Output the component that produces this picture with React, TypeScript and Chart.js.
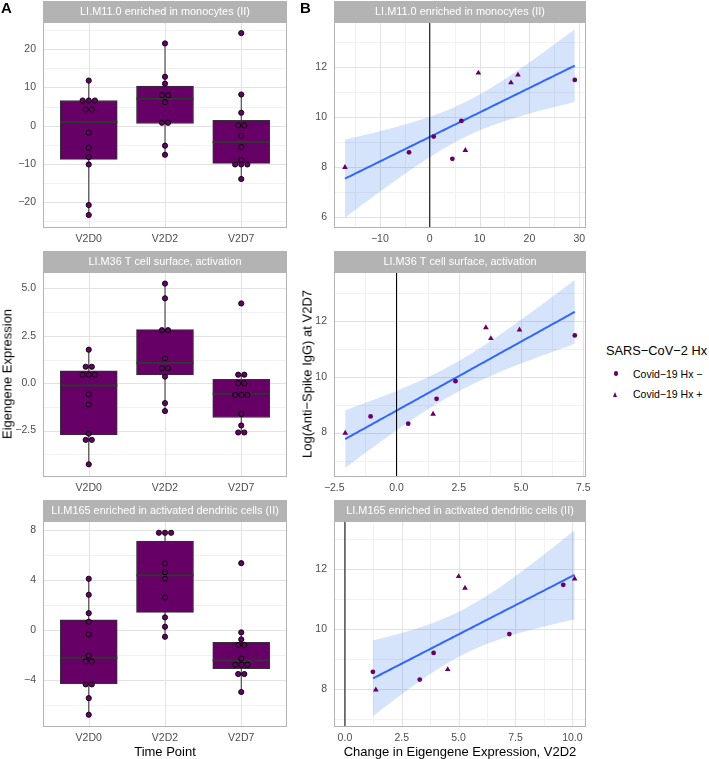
import React, { useEffect, useRef } from 'react';
import { Chart, registerables } from 'chart.js';

Chart.register(...registerables);

const FONT = '"Liberation Sans", Arial, Helvetica, sans-serif';
Chart.defaults.font.family = FONT;

// ---------- styling constants ----------
const PURPLE = '#660066';
const BOX_LINE = '#333333';
const GRID_MAJOR = '#E2E2E2';
const GRID_MINOR = '#F1F1F1';
const STRIP = '#B3B3B3';
const TICK_TEXT = '#4D4D4D';
const FIT_LINE = '#3366FF';
const BAND_FILL = 'rgba(45,115,235,0.2)';

// ---------- data ----------
const TIME_POINTS = ['V2D0', 'V2D2', 'V2D7'];
const MODULES = [
  'LI.M11.0 enriched in monocytes (II)',
  'LI.M36 T cell surface, activation',
  'LI.M165 enriched in activated dendritic cells (II)',
];

// Panel A: eigengene expression per subject (dot plot), by time point
const M11_V2D0 = [11.8, 6.6, 6.6, 6.6, 4.26, 4.26, -1.83, -5.74, -8.17, -10.1, -20.7, -23.3];
const M11_V2D2 = [21.5, 12.8, 11.0, 8.0, 8.0, 6.17, 0.78, 0.78, -5.2, -7.57];
const M11_V2D7 = [24.2, 8.17, 3.4, 0.1, 0.1, -2.6, -5.56, -8.96, -10.1, -10.1, -10.1, -13.9];

const M36_V2D0 = [1.77, 0.87, 0.87, 0.45, 0.45, 0.45, -0.59, -1.12, -2.66, -2.99, -2.99, -4.28];
const M36_V2D2 = [5.26, 4.48, 2.8, 2.8, 1.31, 0.79, 0.79, 0.35, -1.05, -1.47];
const M36_V2D7 = [4.21, 0.45, 0.45, 0.0, 0.0, -0.62, -0.62, -0.62, -1.62, -2.23, -2.6, -2.6];

const M165_V2D0 = [4.08, 2.8, 1.33, 0.64, -0.37, -2.08, -2.53, -2.53, -4.37, -4.37, -5.47, -6.8];
const M165_V2D2 = [7.76, 7.76, 7.76, 5.31, 4.61, 4.08, 2.59, 0.99, 0.24, -0.56];
const M165_V2D7 = [5.33, -0.21, -0.77, -1.22, -1.22, -2.29, -2.8, -2.8, -2.8, -3.54, -3.54, -4.98];

// Box summaries [lower whisker, Q1, median, Q3, upper whisker] per time point
const M11_BOX = [[-23.3, -8.78, 0.96, 6.6, 11.8], [-7.57, 0.6, 7.04, 10.35, 21.5], [-13.9, -9.82, -4.26, 1.41, 8.17]];
const M36_BOX = [[-4.28, -2.73, -0.12, 0.66, 1.77], [-1.47, 0.44, 1.07, 2.83, 5.26], [-2.6, -1.81, -0.56, 0.21, 0.45]];
const M165_BOX = [[-6.8, -4.32, -2.24, 0.8, 4.08], [-0.56, 1.39, 4.37, 7.09, 7.76], [-4.98, -3.12, -2.45, -1.01, -0.21]];

// Panel B: per subject
const LOG_IGG_V2D7 = [7.98, 8.58, 8.32, 8.66, 9.21, 9.84, 11.76, 11.37, 11.68, 11.48];
const COVID_HX_POSITIVE = [true, false, false, true, false, false, true, true, true, false];
const M11_CHANGE_V2D2 = [-17.0, -4.15, 4.54, 7.15, 0.8, 6.35, 9.76, 16.3, 17.7, 29.1];
const M36_CHANGE_V2D2 = [-2.06, -1.04, 0.47, 1.47, 1.61, 2.37, 3.59, 3.79, 4.94, 7.16];
const M165_CHANGE_V2D2 = [1.36, 1.23, 3.29, 4.52, 3.9, 7.23, 5.0, 5.28, 10.1, 9.6];

// Tick values / labels
const A1_Y_TICKS = [-20, -10, 0, 10, 20];
const A1_Y_LABELS = ['\u221220', '\u221210', '0', '10', '20'];
const A1_Y_MINOR = [-25, -15, -5, 5, 15, 25];
const A2_Y_TICKS = [-2.5, 0, 2.5, 5];
const A2_Y_LABELS = ['\u22122.5', '0.0', '2.5', '5.0'];
const A2_Y_MINOR = [-3.75, -1.25, 1.25, 3.75];
const A3_Y_TICKS = [-4, 0, 4, 8];
const A3_Y_LABELS = ['\u22124', '0', '4', '8'];
const A3_Y_MINOR = [-6, -2, 2, 6];
const CAT_TICKS = [1, 2, 3];

const B1_X_TICKS = [-10, 0, 10, 20, 30];
const B1_X_LABELS = ['\u221210', '0', '10', '20', '30'];
const B1_X_MINOR = [-15, -5, 5, 15, 25];
const B1_Y_TICKS = [6, 8, 10, 12];
const B1_Y_LABELS = ['6', '8', '10', '12'];
const B2_X_TICKS = [-2.5, 0, 2.5, 5, 7.5];
const B2_X_LABELS = ['\u22122.5', '0.0', '2.5', '5.0', '7.5'];
const B2_X_MINOR = [-1.25, 1.25, 3.75, 6.25];
const B3_X_TICKS = [0, 2.5, 5, 7.5, 10];
const B3_X_LABELS = ['0.0', '2.5', '5.0', '7.5', '10.0'];
const B3_X_MINOR = [1.25, 3.75, 6.25, 8.75];
const B_Y_TICKS = [8, 10, 12];
const B_Y_LABELS = ['8', '10', '12'];
const B_Y_MINOR = [7, 9, 11, 13];

// ---------- layout ----------
const Y_AXIS_W = 45;
const X_AXIS_H = 22;
const STRIP_H = 21;
const PAD_TOP = 22;
const PAD_RIGHT = 12;
const COL_A = { L: 43, R: 287 };
const COL_B = { L: 334, R: 586 };
const ROWS = [{ T: 22, B: 228 }, { T: 272, B: 477 }, { T: 521, B: 727 }];
const BOX_HALF = 0.375;
const DOT_STEP = 0.08;
const T_975_DF8 = 2.306004;
const TICK_FONT = 10.5;

// ---------- helpers ----------
function axis(min: number, max: number, major: number[], labels: string[], isX: boolean) {
  return {
    type: 'linear',
    min,
    max,
    bounds: 'data',
    offset: false,
    afterBuildTicks: (s: any) => {
      s.ticks = major.map((v) => ({ value: v }));
    },
    afterFit: (s: any) => {
      if (isX) s.height = X_AXIS_H;
      else s.width = Y_AXIS_W;
    },
    ticks: {
      autoSkip: false,
      maxRotation: 0,
      minRotation: 0,
      padding: isX ? 5 : 7,
      color: TICK_TEXT,
      font: { family: FONT, size: TICK_FONT },
      callback: (v: number) => {
        const i = major.indexOf(v);
        return i >= 0 ? labels[i] : '';
      },
    },
    grid: { display: false, drawTicks: false, offset: false },
    border: { display: false },
  };
}

type Grid = { xMajor: number[]; xMinor: number[]; yMajor: number[]; yMinor: number[] };

function makePanelPlugin(title: string, grid: Grid) {
  return {
    id: 'panel',
    beforeDraw(chart: any) {
      const { ctx, chartArea: a } = chart;
      ctx.save();
      ctx.fillStyle = '#FFFFFF';
      ctx.fillRect(a.left, a.top, a.right - a.left, a.bottom - a.top);
      ctx.fillStyle = STRIP;
      ctx.fillRect(a.left, a.top - STRIP_H, a.right - a.left, STRIP_H);
      ctx.fillStyle = '#FFFFFF';
      ctx.font = `10.9px ${FONT}`;
      ctx.textAlign = 'center';
      ctx.textBaseline = 'middle';
      ctx.fillText(title, (a.left + a.right) / 2, a.top - STRIP_H / 2 + 0.5);
      ctx.restore();
    },
    beforeDatasetsDraw(chart: any) {
      const { ctx, chartArea: a, scales } = chart;
      const xs = scales.x;
      const ys = scales.y;
      ctx.save();
      ctx.lineWidth = 1;
      const vLines = (vals: number[], color: string) => {
        ctx.strokeStyle = color;
        ctx.beginPath();
        vals.forEach((v) => {
          const p = Math.round(xs.getPixelForValue(v)) + 0.5;
          ctx.moveTo(p, a.top);
          ctx.lineTo(p, a.bottom);
        });
        ctx.stroke();
      };
      const hLines = (vals: number[], color: string) => {
        ctx.strokeStyle = color;
        ctx.beginPath();
        vals.forEach((v) => {
          const p = Math.round(ys.getPixelForValue(v)) + 0.5;
          ctx.moveTo(a.left, p);
          ctx.lineTo(a.right, p);
        });
        ctx.stroke();
      };
      vLines(grid.xMinor, GRID_MINOR);
      hLines(grid.yMinor, GRID_MINOR);
      vLines(grid.xMajor, GRID_MAJOR);
      hLines(grid.yMajor, GRID_MAJOR);
      ctx.restore();
    },
    afterDraw(chart: any) {
      const { ctx, chartArea: a } = chart;
      ctx.save();
      ctx.strokeStyle = STRIP;
      ctx.lineWidth = 1;
      ctx.strokeRect(a.left + 0.5, a.top + 0.5, a.right - a.left - 1, a.bottom - a.top - 1);
      ctx.restore();
    },
  };
}

function dotPoints(groups: number[][]) {
  const out: { x: number; y: number }[] = [];
  groups.forEach((vals, gi) => {
    const c = gi + 1;
    const counts = new Map<number, number>();
    vals.forEach((v) => counts.set(v, (counts.get(v) || 0) + 1));
    const seen = new Map<number, number>();
    vals.forEach((v) => {
      const n = counts.get(v)!;
      const k = seen.get(v) || 0;
      seen.set(v, k + 1);
      out.push({ x: c + (k - (n - 1) / 2) * DOT_STEP, y: v });
    });
  });
  return out;
}

function baseOptions(x: any, y: any) {
  return {
    responsive: false,
    animation: false,
    events: [],
    layout: { padding: { top: PAD_TOP, left: 0, right: PAD_RIGHT, bottom: 0 } },
    plugins: { legend: { display: false }, tooltip: { enabled: false } },
    scales: { x, y },
  };
}

function boxConfig(title: string, stats: number[][], dots: number[][], yMin: number, yMax: number, yT: number[], yL: string[], yM: number[]) {
  const whisk: any[] = [];
  const med: any[] = [];
  const boxes: any[] = [];
  stats.forEach((s, i) => {
    const c = i + 1;
    whisk.push({ x: c, y: s[0] }, { x: c, y: s[4] }, { x: c, y: null });
    boxes.push({ x: c, y: [s[1], s[3]] });
    med.push({ x: c - BOX_HALF, y: s[2] }, { x: c + BOX_HALF, y: s[2] }, { x: c, y: null });
  });
  return {
    type: 'scatter',
    data: {
      datasets: [
        { type: 'line', data: whisk, borderColor: BOX_LINE, borderWidth: 1, pointRadius: 0, fill: false, spanGaps: false, order: 4 },
        { type: 'bar', data: boxes, backgroundColor: PURPLE, borderColor: BOX_LINE, borderWidth: 1, borderSkipped: false, barThickness: 57, order: 3 },
        { type: 'line', data: med, borderColor: BOX_LINE, borderWidth: 2, pointRadius: 0, fill: false, spanGaps: false, order: 2 },
        { type: 'scatter', data: dotPoints(dots), pointRadius: 2.6, pointBackgroundColor: PURPLE, pointBorderColor: '#000000', pointBorderWidth: 0.9, order: 1 },
      ],
    },
    options: baseOptions(axis(0.4, 3.6, CAT_TICKS, TIME_POINTS, true), axis(yMin, yMax, yT, yL, false)),
    plugins: [makePanelPlugin(title, { xMajor: CAT_TICKS, xMinor: [], yMajor: yT, yMinor: yM })],
  };
}

function fitBand(xs: number[], ys: number[]) {
  const n = xs.length;
  const mx = xs.reduce((a, b) => a + b, 0) / n;
  const my = ys.reduce((a, b) => a + b, 0) / n;
  let sxx = 0;
  let sxy = 0;
  xs.forEach((x, i) => {
    sxx += (x - mx) * (x - mx);
    sxy += (x - mx) * (ys[i] - my);
  });
  const b = sxy / sxx;
  const a = my - b * mx;
  let sse = 0;
  xs.forEach((x, i) => {
    const r = ys[i] - (a + b * x);
    sse += r * r;
  });
  const s = Math.sqrt(sse / (n - 2));
  const lo = Math.min(...xs);
  const hi = Math.max(...xs);
  const pts: { x: number; fit: number; up: number; dn: number }[] = [];
  const steps = 80;
  for (let i = 0; i < steps; i++) {
    const x = lo + ((hi - lo) * i) / (steps - 1);
    const f = a + b * x;
    const se = s * Math.sqrt(1 / n + ((x - mx) * (x - mx)) / sxx);
    pts.push({ x, fit: f, up: f + T_975_DF8 * se, dn: f - T_975_DF8 * se });
  }
  return pts;
}

function scatterConfig(title: string, xs: number[], xMin: number, xMax: number, xT: number[], xL: string[], xM: number[], yMin: number, yMax: number, yT: number[], yL: string[], yM: number[]) {
  const band = fitBand(xs, LOG_IGG_V2D7);
  const circles = xs.map((x, i) => ({ x, y: LOG_IGG_V2D7[i] })).filter((_, i) => !COVID_HX_POSITIVE[i]);
  const tris = xs.map((x, i) => ({ x, y: LOG_IGG_V2D7[i] })).filter((_, i) => COVID_HX_POSITIVE[i]);
  const clear = 'rgba(0,0,0,0)';
  return {
    type: 'scatter',
    data: {
      datasets: [
        { type: 'line', data: band.map((p) => ({ x: p.x, y: p.up })), fill: '+1', backgroundColor: BAND_FILL, borderColor: clear, borderWidth: 1, pointRadius: 0, order: 5 },
        { type: 'line', data: band.map((p) => ({ x: p.x, y: p.dn })), fill: false, borderColor: clear, borderWidth: 1, pointRadius: 0, order: 5 },
        { type: 'line', data: band.map((p) => ({ x: p.x, y: p.fit })), fill: false, borderColor: FIT_LINE, borderWidth: 2, pointRadius: 0, order: 3 },
        { type: 'line', data: [{ x: 0, y: yMin }, { x: 0, y: yMax }], fill: false, borderColor: '#000000', borderWidth: 1, pointRadius: 0, order: 2 },
        { type: 'scatter', data: circles, pointStyle: 'circle', pointRadius: 2.4, pointBackgroundColor: PURPLE, pointBorderWidth: 0, order: 1 },
        { type: 'scatter', data: tris, pointStyle: 'triangle', pointRadius: 3.3, pointBackgroundColor: PURPLE, pointBorderWidth: 0, order: 1 },
      ],
    },
    options: baseOptions(axis(xMin, xMax, xT, xL, true), axis(yMin, yMax, yT, yL, false)),
    plugins: [makePanelPlugin(title, { xMajor: xT, xMinor: xM, yMajor: yT, yMinor: yM })],
  };
}

type Panel = { key: string; col: { L: number; R: number }; row: { T: number; B: number }; config: () => any };

const PANELS: Panel[] = [
  { key: 'a1', col: COL_A, row: ROWS[0], config: () => boxConfig(MODULES[0], M11_BOX, [M11_V2D0, M11_V2D2, M11_V2D7], -26.7, 27.1, A1_Y_TICKS, A1_Y_LABELS, A1_Y_MINOR) },
  { key: 'a2', col: COL_A, row: ROWS[1], config: () => boxConfig(MODULES[1], M36_BOX, [M36_V2D0, M36_V2D2, M36_V2D7], -4.95, 5.87, A2_Y_TICKS, A2_Y_LABELS, A2_Y_MINOR) },
  { key: 'a3', col: COL_A, row: ROWS[2], config: () => boxConfig(MODULES[2], M165_BOX, [M165_V2D0, M165_V2D2, M165_V2D7], -7.78, 8.7, A3_Y_TICKS, A3_Y_LABELS, A3_Y_MINOR) },
  { key: 'b1', col: COL_B, row: ROWS[0], config: () => scatterConfig(MODULES[0], M11_CHANGE_V2D2, -19.2, 31.35, B1_X_TICKS, B1_X_LABELS, B1_X_MINOR, 5.55, 13.8, B1_Y_TICKS, B1_Y_LABELS, B_Y_MINOR) },
  { key: 'b2', col: COL_B, row: ROWS[1], config: () => scatterConfig(MODULES[1], M36_CHANGE_V2D2, -2.51, 7.61, B2_X_TICKS, B2_X_LABELS, B2_X_MINOR, 6.41, 13.75, B_Y_TICKS, B_Y_LABELS, B_Y_MINOR) },
  { key: 'b3', col: COL_B, row: ROWS[2], config: () => scatterConfig(MODULES[2], M165_CHANGE_V2D2, -0.48, 10.6, B3_X_TICKS, B3_X_LABELS, B3_X_MINOR, 6.74, 13.61, B_Y_TICKS, B_Y_LABELS, B_Y_MINOR) },
];

function geom(p: Panel) {
  return {
    x: p.col.L - Y_AXIS_W,
    y: p.row.T - PAD_TOP,
    w: Y_AXIS_W + (p.col.R - p.col.L) + PAD_RIGHT,
    h: PAD_TOP + (p.row.B - p.row.T) + X_AXIS_H,
  };
}

const textBase: React.CSSProperties = { position: 'absolute', whiteSpace: 'nowrap', lineHeight: 1, fontFamily: FONT };

export default function App() {
  const refs = useRef<(HTMLCanvasElement | null)[]>([]);
  useEffect(() => {
    const charts = PANELS.map((p, i) => new Chart(refs.current[i] as HTMLCanvasElement, p.config()));
    return () => charts.forEach((c) => c.destroy());
  }, []);

  return (
    <div style={{ position: 'absolute', left: 0, top: 0, width: 709, height: 759, background: '#FFFFFF', overflow: 'hidden', fontFamily: FONT }}>
      {PANELS.map((p, i) => {
        const g = geom(p);
        return (
          <canvas
            key={p.key}
            ref={(el) => {
              refs.current[i] = el;
            }}
            width={g.w}
            height={g.h}
            style={{ position: 'absolute', left: g.x, top: g.y }}
          />
        );
      })}
      <div style={{ ...textBase, left: 1, top: 0, fontSize: 15, fontWeight: 'bold', color: '#000' }}>A</div>
      <div style={{ ...textBase, left: 300, top: 0, fontSize: 15, fontWeight: 'bold', color: '#000' }}>B</div>
      <div style={{ ...textBase, left: 7, top: 374, fontSize: 13, color: '#000', transform: 'translate(-50%, -50%) rotate(-90deg)' }}>Eigengene Expression</div>
      <div style={{ ...textBase, left: 165, top: 751, fontSize: 13, color: '#000', transform: 'translate(-50%, -50%)' }}>Time Point</div>
      <div style={{ ...textBase, left: 307, top: 374, fontSize: 13, color: '#000', transform: 'translate(-50%, -50%) rotate(-90deg)' }}>Log(Anti{'\u2212'}Spike IgG) at V2D7</div>
      <div style={{ ...textBase, left: 460, top: 751, fontSize: 13, color: '#000', transform: 'translate(-50%, -50%)' }}>Change in Eigengene Expression, V2D2</div>
      <div style={{ ...textBase, left: 606, top: 351, fontSize: 12.8, color: '#000', transform: 'translateY(-50%)' }}>SARS{'\u2212'}CoV{'\u2212'}2 Hx</div>
      <div style={{ position: 'absolute', left: 613.5, top: 371.2, width: 4.4, height: 4.4, borderRadius: '50%', background: PURPLE }} />
      <div style={{ ...textBase, left: 633, top: 373.5, fontSize: 10.5, color: '#000', transform: 'translateY(-50%)' }}>Covid{'\u2212'}19 Hx {'\u2212'}</div>
      <div style={{ position: 'absolute', left: 612.9, top: 391.5, width: 0, height: 0, borderLeft: '2.8px solid transparent', borderRight: '2.8px solid transparent', borderBottom: '5px solid ' + PURPLE }} />
      <div style={{ ...textBase, left: 633, top: 394, fontSize: 10.5, color: '#000', transform: 'translateY(-50%)' }}>Covid{'\u2212'}19 Hx +</div>
    </div>
  );
}
